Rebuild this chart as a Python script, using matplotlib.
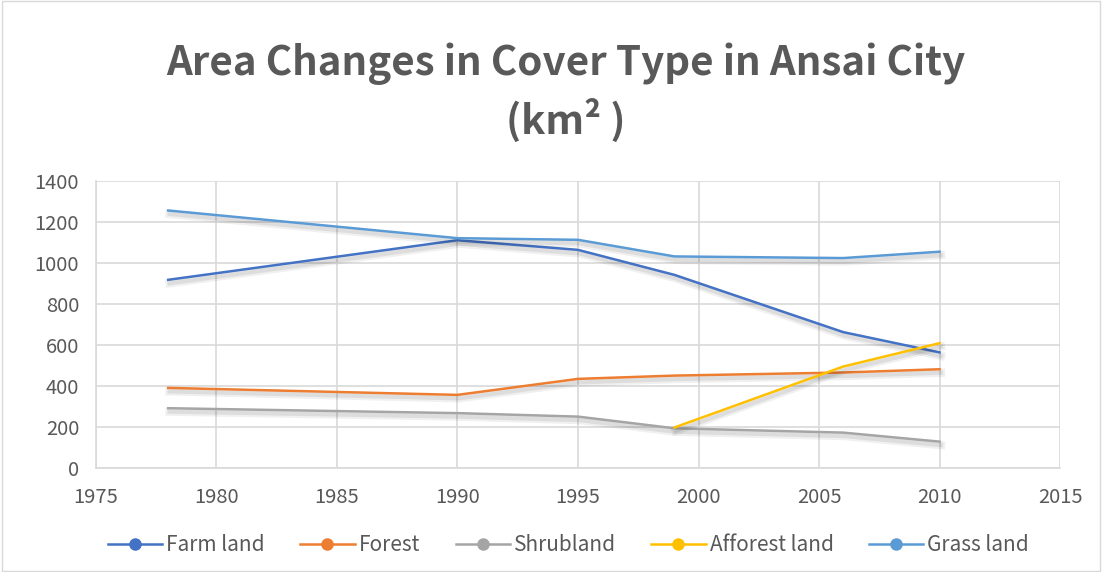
import matplotlib.pyplot as plt
import matplotlib.patheffects as pe
from matplotlib.lines import Line2D
from matplotlib.patches import Rectangle

plt.rcParams["font.family"] = ["Noto Sans CJK SC", "DejaVu Sans"]

years = [1978, 1990, 1995, 1999, 2006, 2010]
farm_land = [917, 1110, 1063, 941, 662, 563]
forest = [390, 356, 434, 450, 465, 481]
shrubland = [291, 267, 250, 193, 172, 128]
afforest_years = [1999, 2006, 2010]
afforest_land = [197, 494, 608]
grass_land = [1255, 1120, 1112, 1031, 1023, 1054]

series = [
    ("Farm land", years, farm_land, "#4472C4"),
    ("Forest", years, forest, "#ED7D31"),
    ("Shrubland", years, shrubland, "#A5A5A5"),
    ("Afforest land", afforest_years, afforest_land, "#FFC000"),
    ("Grass land", years, grass_land, "#5B9BD5"),
]

fig = plt.figure(figsize=(11.02, 5.72), dpi=100)
fig.patches.append(
    Rectangle((0.002, 0.002), 0.996, 0.996, transform=fig.transFigure,
              fill=False, edgecolor="#d9d9d9", linewidth=1)
)
ax = fig.add_axes([0.087, 0.182, 0.875, 0.502])

# soft drop shadow like the Excel line effect
shadow = [
    pe.SimpleLineShadow(offset=(1, -2.5), shadow_color="#000000", alpha=0.06, linewidth=6),
    pe.SimpleLineShadow(offset=(1, -2.5), shadow_color="#000000", alpha=0.08, linewidth=3),
    pe.Normal(),
]

handles = []
for name, xs, ys, color in series:
    ax.plot(xs, ys, color=color, linewidth=1.8, path_effects=shadow, zorder=3)
    handles.append(Line2D([], [], color=color, linewidth=1.8, marker="o",
                          markersize=8, label=name))

ax.set_xlim(1975, 2015)
ax.set_ylim(0, 1400)
ax.set_xticks(range(1975, 2016, 5))
ax.set_yticks(range(0, 1401, 200))
ax.grid(True, color="#d9d9d9", linewidth=1.2)
ax.set_axisbelow(True)
for side in ["top", "right"]:
    ax.spines[side].set_visible(False)
for side in ["left", "bottom"]:
    ax.spines[side].set_color("#d9d9d9")
    ax.spines[side].set_linewidth(1.2)
ax.tick_params(length=0, labelsize=14.5, colors="#595959")
ax.tick_params(axis="y", pad=12)
ax.tick_params(axis="x", pad=14)

fig.text(0.513, 0.838, "Area Changes in Cover Type in Ansai City\n(km² )",
         ha="center", va="center", fontsize=29, fontweight="bold",
         color="#595959", linespacing=1.38)

fig.legend(handles=handles, loc="center", bbox_to_anchor=(0.516, 0.047), ncol=5,
           frameon=False, fontsize=15, labelcolor="#595959", handlelength=2.6,
           columnspacing=1.7, handletextpad=0.2)

fig.savefig("out.png", dpi=100)
